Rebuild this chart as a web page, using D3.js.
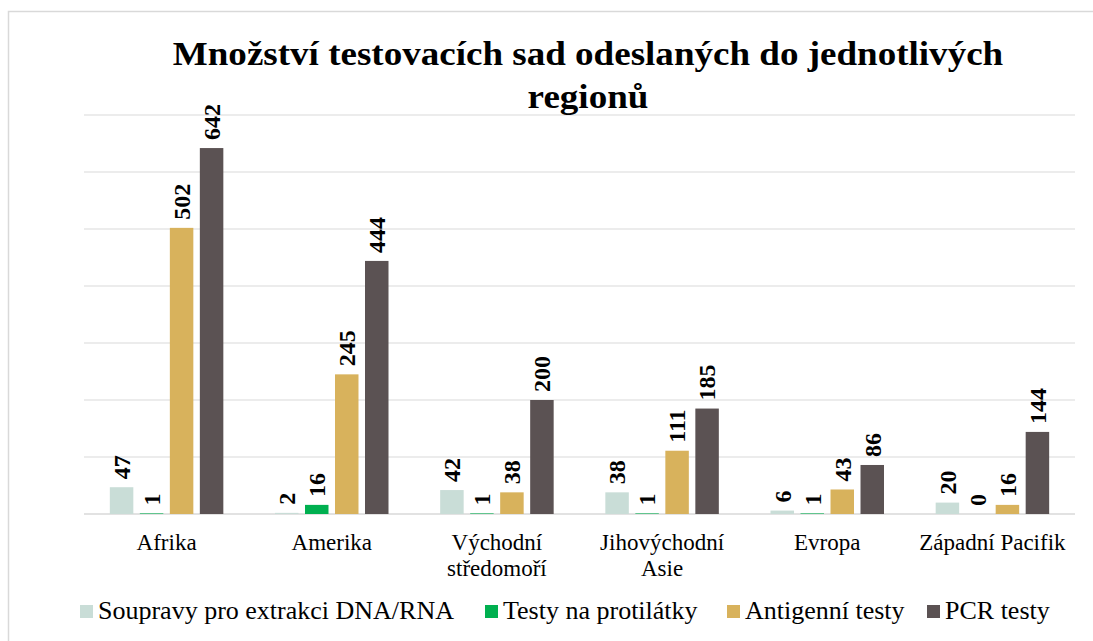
<!DOCTYPE html>
<html>
<head>
<meta charset="utf-8">
<script src="https://cdn.jsdelivr.net/npm/d3@7"></script>
<style>
  html, body { margin: 0; padding: 0; background: #fff; }
  svg { display: block; }
  svg text { font-family: "Liberation Serif", "DejaVu Serif", serif; }
</style>
</head>
<body>
<svg id="chart" width="1093" height="641"></svg>
<script>
// Regions and the number of kits shipped per kit type
const regions = [["Afrika"], ["Amerika"], ["Východní", "středomoří"], ["Jihovýchodní", "Asie"], ["Evropa"], ["Západní Pacifik"]];
const seriesNames = ["Soupravy pro extrakci DNA/RNA", "Testy na protilátky", "Antigenní testy", "PCR testy"];
const extractionKits = [47, 2, 42, 38, 6, 20];
const antibodyTests = [1, 16, 1, 1, 1, 0];
const antigenTests = [502, 245, 38, 111, 43, 16];
const pcrTests = [642, 444, 200, 185, 86, 144];
const seriesColors = ["#c9ddd7", "#00b050", "#d8b25c", "#5b5253"];
const yTicks = [0, 100, 200, 300, 400, 500, 600, 700];
const titleLines = ["Množství testovacích sad odeslaných do jednotlivých", "regionů"];

const seriesValues = [extractionKits, antibodyTests, antigenTests, pcrTests];
const regionKeys = regions.map(r => r.join(" "));

const svg = d3.select("#chart");

// outer chart frame
svg.append("rect")
  .attr("x", 8.5).attr("y", 11.5).attr("width", 1200).attr("height", 700)
  .attr("fill", "none").attr("stroke", "#d9d9d9").attr("stroke-width", 1.5);

const plot = { left: 84, right: 1075, top: 115, bottom: 514 };

const x = d3.scaleBand().domain(regionKeys).range([plot.left, plot.right]).paddingInner(0).paddingOuter(0);
const y = d3.scaleLinear().domain([0, 700]).range([plot.bottom, plot.top]);

// inner scale for the four bars within a region
const groupWidth = 113.5;
const xs = d3.scaleBand().domain(d3.range(seriesNames.length))
  .range([0, groupWidth]).paddingInner(0.217).paddingOuter(0);

// horizontal gridlines
svg.append("g")
  .selectAll("line")
  .data(yTicks)
  .join("line")
  .attr("x1", plot.left).attr("x2", plot.right)
  .attr("y1", d => y(d)).attr("y2", d => y(d))
  .attr("stroke", d => d === 0 ? "#d9d9d9" : "#e6e6e6")
  .attr("stroke-width", 1.5);

// bars
const groups = svg.append("g")
  .selectAll("g")
  .data(regionKeys)
  .join("g")
  .attr("transform", d => `translate(${x(d) + (x.bandwidth() - groupWidth) / 2},0)`);

groups.each(function (region, ri) {
  const g = d3.select(this);
  const items = seriesValues.map((vals, si) => ({ si, v: vals[ri] }));
  g.selectAll("rect")
    .data(items)
    .join("rect")
    .attr("x", d => xs(d.si))
    .attr("width", xs.bandwidth())
    .attr("y", d => y(d.v))
    .attr("height", d => y(0) - y(d.v))
    .attr("fill", d => seriesColors[d.si]);

  // rotated value labels above each bar
  g.selectAll("text")
    .data(items)
    .join("text")
    .attr("transform", d => `translate(${xs(d.si) + xs.bandwidth() / 2},${y(d.v) - 8}) rotate(-90)`)
    .attr("dy", "0.35em")
    .attr("text-anchor", "start")
    .attr("font-weight", "bold")
    .attr("font-size", 24)
    .attr("fill", "#000")
    .text(d => d.v);
});

// category labels
const xAxis = svg.append("g");
regions.forEach((lines, i) => {
  const cx = x(regionKeys[i]) + x.bandwidth() / 2;
  const t = xAxis.append("text")
    .attr("x", cx)
    .attr("y", 550)
    .attr("text-anchor", "middle")
    .attr("font-size", 23)
    .attr("fill", "#000");
  lines.forEach((ln, j) => {
    t.append("tspan")
      .attr("x", cx)
      .attr("dy", j === 0 ? 0 : 26)
      .text(ln);
  });
});

// title, slightly widened
const titleX = 588;
const title = svg.append("text")
  .attr("transform", `translate(${titleX},0) scale(1.09,1)`)
  .attr("x", 0).attr("y", 65)
  .attr("text-anchor", "middle")
  .attr("font-weight", "bold")
  .attr("font-size", 34)
  .attr("fill", "#000");
titleLines.forEach((ln, i) => {
  title.append("tspan").attr("x", 0).attr("dy", i === 0 ? 0 : 43).text(ln);
});

// legend
const legendX = [80, 485, 727, 927];
const legend = svg.append("g");
seriesNames.forEach((name, i) => {
  legend.append("rect")
    .attr("x", legendX[i]).attr("y", 605)
    .attr("width", 13).attr("height", 13)
    .attr("fill", seriesColors[i]);
  legend.append("text")
    .attr("x", legendX[i] + 18).attr("y", 619)
    .attr("font-size", 26)
    .attr("fill", "#000")
    .text(name);
});
</script>
</body>
</html>
